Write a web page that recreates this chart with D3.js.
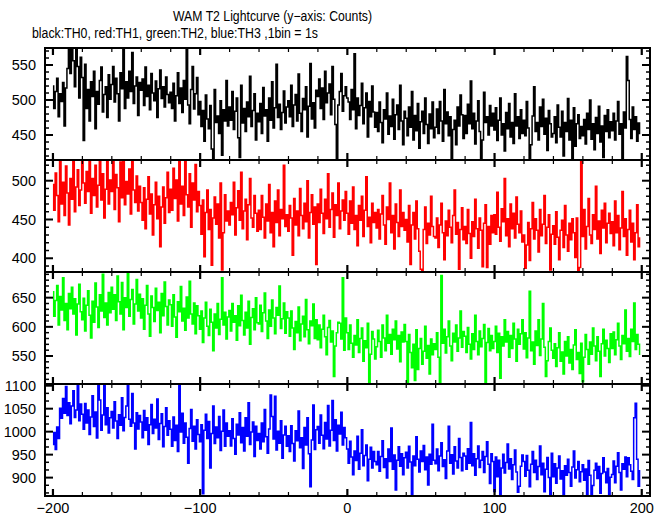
<!DOCTYPE html>
<html><head><meta charset="utf-8">
<script src="https://cdn.jsdelivr.net/npm/d3@7"></script>
<style>body{margin:0;background:#fff}svg{display:block}</style>
</head><body><svg id="c" width="669" height="515"></svg>
<script>
// 1 bin = 1 s, first bin at t = -200 s
const binStart = -200;
const th0 = [
520,488,512,531,476,509,498,525,463,517,545,572,538,580,556,519,590,548,503,561,
532,442,551,488,515,470,526,505,541,459,512,494,528,547,483,508,519,475,536,501,
522,548,497,531,509,470,539,516,580,488,526,503,541,512,568,495,520,533,478,525,
514,530,492,547,505,521,486,538,510,499,527,475,516,543,502,519,490,533,508,496,
511,488,524,470,506,539,495,517,482,528,501,578,493,466,515,548,487,509,532,479,
498,462,485,441,507,473,459,492,430,412,515,468,477,452,499,421,486,470,528,463,
490,471,512,458,484,503,446,418,521,467,488,455,497,476,534,462,485,509,443,481,
469,495,452,518,477,486,441,503,471,526,460,489,551,475,494,458,482,513,467,490,
499,476,521,462,493,508,470,537,481,455,502,486,519,447,491,552,473,496,460,514,
505,530,488,517,472,541,496,510,523,479,548,501,465,410,493,512,538,484,506,519,
503,497,472,515,486,566,459,503,478,492,524,466,489,510,447,498,476,520,483,461,
482,455,497,468,439,486,473,510,451,477,462,501,444,479,493,458,521,470,436,484,
474,449,490,461,512,443,478,456,495,431,469,484,452,503,465,438,480,459,497,446,
461,487,452,498,470,441,515,466,483,449,476,412,458,471,436,490,463,507,479,445,
478,452,494,466,527,459,481,437,470,499,455,414,443,511,468,476,450,492,463,481,
457,489,442,471,503,450,466,427,482,459,495,447,468,438,509,463,476,445,486,452,
471,449,498,460,412,436,477,519,455,468,443,490,462,501,451,474,428,485,466,447,
452,476,439,493,461,447,484,420,468,455,502,443,471,414,489,434,466,479,445,462,
449,472,437,481,458,500,444,466,429,475,452,491,440,463,418,478,455,486,446,469,
456,481,443,470,498,451,466,412,483,460,562,528,472,445,490,458,476,441,467,452];
const th1 = [
495,462,510,481,447,526,470,498,455,519,484,443,503,476,531,460,492,514,468,488,
529,497,471,512,486,538,458,503,481,520,466,494,535,475,509,452,489,527,470,501,
486,530,463,508,491,447,524,478,532,469,499,483,515,457,540,488,472,506,461,493,
472,449,491,438,476,505,457,483,430,469,498,451,480,415,466,492,445,478,511,459,
489,462,516,477,501,448,528,470,493,455,534,482,466,509,440,497,475,521,460,486,
468,431,475,402,459,488,437,463,391,452,479,444,470,426,497,385,433,482,448,461,
443,472,456,498,430,465,487,449,511,438,461,476,424,469,503,452,440,481,458,435,
462,437,481,453,426,470,448,495,433,459,415,474,446,488,429,463,451,520,441,456,
435,468,452,404,477,443,461,429,490,455,438,471,447,500,426,459,482,444,466,392,
470,446,489,458,432,476,451,509,440,463,484,427,469,455,497,438,461,475,449,486,
458,431,474,445,492,437,455,416,468,449,480,428,462,505,441,453,420,471,446,459,
439,463,425,457,481,443,418,466,450,497,433,455,412,470,446,428,488,441,459,436,
450,421,468,392,443,459,425,474,438,409,386,383,437,466,419,445,430,480,441,428,
426,452,414,443,471,433,398,448,429,462,440,420,455,488,431,446,386,437,465,424,
441,419,463,432,400,447,428,476,438,413,452,436,389,445,469,388,441,418,455,433,
456,431,485,440,422,464,447,503,429,451,415,470,438,458,426,479,444,433,461,421,
430,387,417,446,397,438,472,425,451,436,408,463,429,444,481,419,440,456,385,431,
442,418,460,427,398,436,449,414,468,430,409,445,424,451,433,401,452,384,388,526,
428,463,412,441,477,430,419,456,437,493,425,448,406,462,439,471,420,445,458,432,
447,416,474,433,455,411,439,486,428,451,404,437,462,421,445,398,433,469,415,426];
const th2 = [
660,618,645,671,603,652,629,684,611,640,595,657,631,668,622,648,586,639,673,626,
612,649,593,637,662,620,581,644,608,675,634,599,655,627,690,616,641,603,659,624,
668,630,655,611,687,643,622,676,595,650,633,692,618,647,664,605,639,681,627,656,
615,648,596,637,671,622,584,653,633,609,666,628,642,590,657,619,677,635,603,646,
638,601,655,617,582,643,626,669,610,632,594,651,615,678,622,605,641,588,636,619,
596,627,573,615,642,601,585,630,608,559,622,598,640,587,613,684,603,625,579,617,
628,593,640,608,619,577,636,602,654,611,586,625,598,644,570,616,631,595,650,607,
605,637,592,624,658,610,580,629,601,646,615,588,633,620,670,597,614,641,589,626,
615,584,627,598,561,609,590,634,576,605,618,583,647,595,571,610,602,639,580,612,
578,603,564,596,620,583,552,599,611,574,593,515,567,590,608,606,579,684,560,615,
590,561,603,572,548,585,569,612,556,580,598,541,576,564,606,505,553,592,579,545,
566,594,575,548,603,581,559,620,572,587,553,596,578,610,562,585,540,591,574,604,
575,503,587,556,530,570,508,595,527,563,580,536,558,601,546,568,519,579,552,571,
561,590,548,505,688,572,596,555,583,610,567,542,589,574,603,558,581,627,565,592,
584,556,599,570,545,588,561,620,575,552,593,566,580,604,504,573,597,559,585,563,
575,601,556,589,512,583,567,612,574,592,548,585,563,606,579,541,596,570,588,612,
562,590,547,581,661,559,574,536,593,568,612,551,579,640,565,515,542,575,598,560,
546,571,532,564,590,541,557,519,575,550,583,538,561,527,569,595,544,556,520,572,
506,548,587,561,536,574,553,598,567,542,583,558,515,571,596,550,577,563,539,588,
563,591,552,578,606,567,544,585,571,629,558,580,549,596,575,641,561,587,570,553];
const th3 = [
972,998,961,1010,985,1051,1029,1072,1040,1098,1035,1063,1017,1056,1089,1031,1047,1102,1024,1060,
1038,1005,1061,1019,1047,994,1032,1078,1011,1043,986,1104,1069,1003,1036,1100,1015,1052,997,1030,
1044,1008,1065,1023,985,1037,1014,1074,1002,1031,1056,1104,1027,1012,1083,1019,962,1041,1006,1035,
1021,987,1046,1003,1030,972,1015,1059,996,1027,1008,1071,983,1018,1039,967,1011,1052,992,1024,
1005,968,1032,981,1014,957,1101,999,1040,975,1019,988,931,1007,1048,979,1012,962,1026,994,
978,1015,865,1003,1038,985,1022,921,996,1056,974,1010,987,1033,959,1001,1047,968,1019,990,
1002,969,1028,985,951,1016,993,1041,976,1009,958,1030,990,1063,972,999,1021,946,1012,981,
996,962,1019,978,1048,989,953,1006,1080,1033,984,1077,960,1001,975,1024,942,993,1012,968,
991,957,1013,974,936,1002,980,1045,965,987,920,1009,971,1030,952,880,982,1058,961,1004,
1011,975,1036,992,963,1020,984,1057,969,1003,1068,981,1026,958,1014,995,1042,971,1009,987,
962,931,979,945,906,958,937,990,918,953,1004,926,948,971,893,940,966,921,957,935,
928,957,914,946,980,922,941,899,962,935,1008,918,949,873,938,967,925,952,906,943,
955,921,968,934,862,947,926,989,940,912,958,935,970,917,945,884,951,929,1016,938,
930,962,915,947,976,924,939,898,958,1012,931,950,908,967,936,921,985,944,915,953,
947,918,963,931,1020,926,952,905,941,969,922,938,957,911,946,978,929,887,952,935,
870,945,902,938,864,921,951,910,933,973,919,941,896,928,960,912,868,881,925,949,
935,903,948,916,880,929,957,911,938,896,924,969,906,931,869,918,944,900,863,953,
902,930,888,921,947,897,915,862,926,905,940,911,881,923,958,899,917,935,891,913,
928,894,919,862,937,905,864,883,916,931,898,924,866,909,943,912,889,920,862,901,
907,936,889,925,954,911,873,930,918,945,902,943,928,914,896,1030,1062,940,881,915];

const seriesValues = [th0, th1, th2, th3];
const seriesColors = ["#000000", "#ff0000", "#00ff00", "#0000ff"];
const yDomains = [[414.3, 574.3], [382.3, 526.7], [502, 694], [860, 1103.7]];
const yTickLabels = [[450, 500, 550], [400, 450, 500], [550, 600, 650], [900, 950, 1000, 1050, 1100]];
const yMinorSteps = [10, 10, 10, 50 / 3];
const xTickLabels = [-200, -100, 0, 100, 200];
const xMinorStep = 20;
const xDomain = [-205.4, 205.6];
const titleText = "WAM T2 Lightcurve (y\u2212axis: Counts)";
const subtitleText = "black:TH0, red:TH1, green:TH2, blue:TH3 ,1bin = 1s";

const svg = d3.select("#c");
const L = 45, R = 650, T = 48, PH = 112;
const font = "'Liberation Sans', Arial, sans-serif";

svg.append("text").attr("x", 173).attr("y", 21).attr("font-family", font).attr("font-size", 14)
  .attr("textLength", 199).attr("lengthAdjust", "spacingAndGlyphs").text(titleText);
svg.append("text").attr("x", 32).attr("y", 38).attr("font-family", font).attr("font-size", 14)
  .attr("textLength", 286).attr("lengthAdjust", "spacingAndGlyphs").text(subtitleText);

const x = d3.scaleLinear().domain(xDomain).range([L, R]);
const defs = svg.append("defs");

seriesValues.forEach((vals, p) => {
  const y0 = T + p * PH, y1 = y0 + PH;
  const y = d3.scaleLinear().domain(yDomains[p]).range([y1, y0]);
  defs.append("clipPath").attr("id", "clip" + p).append("rect")
    .attr("x", L).attr("y", y0).attr("width", R - L).attr("height", PH);
  const line = d3.line().x((d, i) => x(binStart + i)).y(d => y(d)).curve(d3.curveStep);
  svg.append("path").datum(vals).attr("clip-path", `url(#clip${p})`)
    .attr("fill", "none").attr("stroke", seriesColors[p]).attr("stroke-width", 1.5)
    .attr("d", line);

  const g = svg.append("g").attr("stroke", "#000");
  g.append("rect").attr("x", L).attr("y", y0).attr("width", R - L).attr("height", PH)
    .attr("fill", "none").attr("stroke-width", 2);

  const xMinor = d3.range(-200, 201, xMinorStep).filter(v => !xTickLabels.includes(v));
  xMinor.forEach(v => {
    const xx = x(v);
    g.append("line").attr("x1", xx).attr("x2", xx).attr("y1", y0).attr("y2", y0 + 4).attr("stroke-width", 1.2);
    g.append("line").attr("x1", xx).attr("x2", xx).attr("y1", y1).attr("y2", y1 - 4).attr("stroke-width", 1.2);
  });
  xTickLabels.forEach(v => {
    const xx = x(v);
    g.append("line").attr("x1", xx).attr("x2", xx).attr("y1", y0).attr("y2", y0 + 7).attr("stroke-width", 2.2);
    g.append("line").attr("x1", xx).attr("x2", xx).attr("y1", y1).attr("y2", y1 - 7).attr("stroke-width", 2.2);
  });

  const base = yTickLabels[p][0], st = yMinorSteps[p];
  const kMin = Math.ceil((yDomains[p][0] - base) / st - 1e-6), kMax = Math.floor((yDomains[p][1] - base) / st + 1e-6);
  for (let k = kMin; k <= kMax; k++) {
    const v = base + k * st;
    if (yTickLabels[p].some(t => Math.abs(t - v) < 1e-6)) continue;
    const yy = y(v);
    g.append("line").attr("x1", L).attr("x2", L + 4).attr("y1", yy).attr("y2", yy).attr("stroke-width", 1.5);
    g.append("line").attr("x1", R).attr("x2", R - 4).attr("y1", yy).attr("y2", yy).attr("stroke-width", 1.5);
  }
  yTickLabels[p].forEach(v => {
    const yy = y(v);
    g.append("line").attr("x1", L).attr("x2", L + 8).attr("y1", yy).attr("y2", yy).attr("stroke-width", 2);
    g.append("line").attr("x1", R).attr("x2", R - 8).attr("y1", yy).attr("y2", yy).attr("stroke-width", 2);
    svg.append("text").attr("x", 36).attr("y", yy).attr("dy", "0.36em").attr("text-anchor", "end")
      .attr("font-family", font).attr("font-size", 14.5)
      .text(d3.format("d")(v));
  });

  if (p === seriesValues.length - 1) {
    xTickLabels.forEach(v => {
      svg.append("text").attr("x", x(v)).attr("y", 513).attr("text-anchor", "middle")
        .attr("font-family", font).attr("font-size", 14.5).text(d3.format("d")(v));
    });
  }
});
</script>
</body></html>
